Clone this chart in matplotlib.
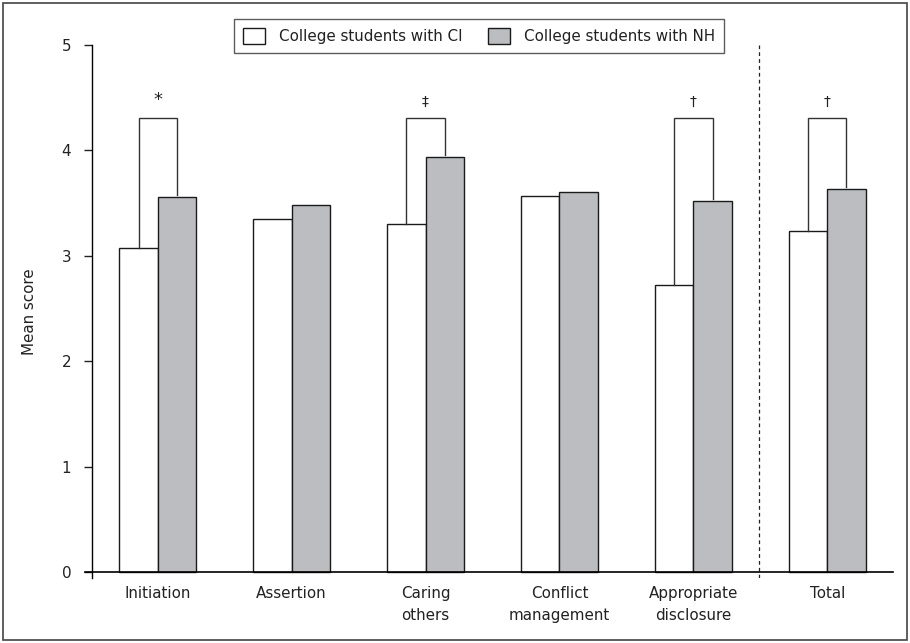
import matplotlib
matplotlib.use("Agg")
import matplotlib.pyplot as plt
from matplotlib.patches import Rectangle, Patch
import numpy as np

categories = ["Initiation", "Assertion", "Caring\nothers", "Conflict\nmanagement", "Appropriate\ndisclosure", "Total"]
ci_values = [3.07, 3.35, 3.30, 3.57, 2.72, 3.24]
nh_values = [3.56, 3.48, 3.94, 3.61, 3.52, 3.63]
sig_marks = ["*", "", "\u2021", "", "\u2020", "\u2020"]
bracket_top = 4.31
series_names = ["College students with CI", "College students with NH"]
yticks = [0, 1, 2, 3, 4, 5]

plt.rcParams['font.family'] = ['DejaVu Sans']
txt = '#222222'
fs = 10.9

fig = plt.figure(figsize=(9.10, 6.43), dpi=100)
ax = fig.add_axes([92/910, 1-578/643, (893-92)/910, (578-45)/643])

x = np.arange(len(categories))
w = 0.285
ax.bar(x - w/2, ci_values, w, color='white', edgecolor='#1a1a1a', linewidth=1.0, label=series_names[0])
ax.bar(x + w/2, nh_values, w, color='#bcbdc0', edgecolor='#1a1a1a', linewidth=1.0, label=series_names[1])

for i, m in enumerate(sig_marks):
    if not m:
        continue
    xl, xr = x[i] - w/2, x[i] + w/2
    ax.plot([xl, xl, xr, xr], [ci_values[i], bracket_top, bracket_top, nh_values[i] + 0.02],
            color='#333333', lw=1.0, solid_joinstyle='miter')
    if m == "*":
        ax.text(x[i], bracket_top + 0.08, m, ha='center', va='bottom', fontsize=13, color=txt)
    else:
        ax.text(x[i], bracket_top + 0.08, m, ha='center', va='bottom', fontsize=10, color=txt)

ax.axvline(4.49, ymin=0, ymax=1, color='#222222', lw=0.9, ls=(0, (3, 2.5)))

ax.set_xlim(-0.49, 5.49)
ax.set_ylim(-0.055, 5)
ax.set_yticks(yticks)
ax.set_yticklabels([str(t) for t in yticks], fontsize=fs, color=txt)
ax.tick_params(axis='y', direction='out', length=6, width=1, pad=9, colors='#222222', labelcolor=txt)
ax.set_xticks(x)
ax.set_xticklabels([])
ax.tick_params(axis='x', length=0)
for xi, cat in zip(x, categories):
    ax.annotate(cat, xy=(xi, 0), xycoords=('data', 'axes fraction'), xytext=(0, -6),
                textcoords='offset points', ha='center', va='top', fontsize=fs,
                color=txt, linespacing=1.55, annotation_clip=False)
for s in ['top', 'right']:
    ax.spines[s].set_visible(False)
ax.spines['bottom'].set_position(('data', 0))
ax.spines['bottom'].set_bounds(-0.545, 5.49)
ax.spines['bottom'].set_linewidth(1.2)
ax.spines['left'].set_linewidth(1.0)
ax.set_ylabel("Mean score", fontsize=fs, color=txt, labelpad=18)

handles = [Patch(facecolor='white', edgecolor='#1a1a1a', lw=1),
           Patch(facecolor='#bcbdc0', edgecolor='#1a1a1a', lw=1)]
leg = fig.legend(handles, series_names, loc='center', bbox_to_anchor=(479/910, 1-36/643),
                 ncol=2, fontsize=fs, frameon=True, fancybox=False, edgecolor='#333333',
                 handlelength=1.45, handleheight=1.2, columnspacing=1.7, handletextpad=0.9,
                 borderpad=0.62, borderaxespad=0)
leg.get_frame().set_linewidth(1.0)
for t in leg.get_texts():
    t.set_color(txt)

fig.patches.append(Rectangle((3/910, 3/643), 904/910, 637/643, transform=fig.transFigure,
                             fill=False, edgecolor='#444444', lw=1.2))

fig.savefig("out.png", dpi=100)
